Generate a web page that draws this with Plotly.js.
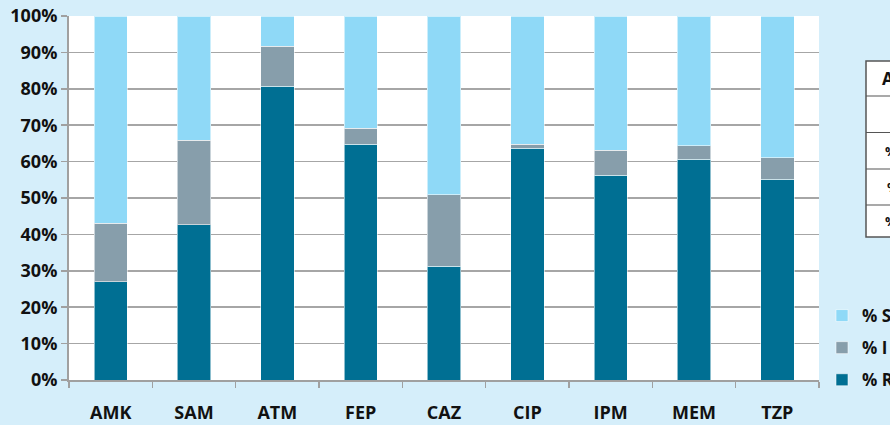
<!DOCTYPE html>
<html>
<head>
<meta charset="utf-8">
<script src="https://cdn.plot.ly/plotly-3.0.1.min.js"></script>
<style>
  html, body { margin: 0; padding: 0; background: #d5eefa; }
  #chart { width: 890px; height: 425px; }
</style>
</head>
<body>
<div id="chart"></div>
<script>
// ---- data ----
var categories = ['AMK', 'SAM', 'ATM', 'FEP', 'CAZ', 'CIP', 'IPM', 'MEM', 'TZP'];
var pctR = [27, 42.6, 80.7, 64.8, 31.3, 63.7, 56.2, 60.6, 55.2];
var pctI = [16.1, 23.2, 11.0, 4.4, 19.6, 1.1, 6.9, 3.7, 5.8];
var pctS = [56.9, 34.2, 8.3, 30.8, 49.1, 35.2, 36.9, 35.7, 39.0];
var seriesNames = ['% R', '% I', '% S'];
var yTickVals = [0, 10, 20, 30, 40, 50, 60, 70, 80, 90, 100];
var yTickText = ['0%', '10%', '20%', '30%', '40%', '50%', '60%', '70%', '80%', '90%', '100%'];
var tableRows = ['Antibiotic', 'N', '% R', '% I', '% S'];

// ---- layout helpers (pixel -> paper) ----
var W = 890, H = 425;
var M = {l: 69, r: 71, t: 16, b: 45};
var PW = W - M.l - M.r, PH = H - M.t - M.b;
function px(x) { return (x - M.l) / PW; }
function py(y) { return 1 - (y - M.t) / PH; }

var colors = ['#006f93', '#879eab', '#8fd9f7'];
var vals = [pctR, pctI, pctS];
var ranks = [3, 2, 1];
var traces = vals.map(function (v, i) {
  return {
    type: 'bar',
    x: categories,
    y: v,
    name: seriesNames[i],
    legendgroup: 'g' + i,
    legendrank: ranks[i],
    marker: {color: colors[i], line: {color: 'rgba(255,255,255,0.55)', width: 1}},
    hoverinfo: 'x+y+name'
  };
});

var font = {family: '"Open Sans", "DejaVu Sans", sans-serif', size: 18, color: '#111', weight: 'bold'};

// table (partially visible on the right edge)
var tblTop = 61, tblBot = 237, tblLeft = 866, tblRight = 960;
var rowLines = [96, 132.5, 169, 205];
var shapes = [{
  type: 'rect', xref: 'paper', yref: 'paper',
  x0: px(tblLeft), x1: px(tblRight), y0: py(tblBot), y1: py(tblTop),
  fillcolor: '#ffffff', line: {color: '#555555', width: 1.5}, layer: 'above'
}];
rowLines.forEach(function (y) {
  shapes.push({type: 'line', xref: 'paper', yref: 'paper',
    x0: px(tblLeft), x1: px(tblRight), y0: py(y), y1: py(y),
    line: {color: '#555555', width: 1.2}, layer: 'above'});
});
var rowEdges = [tblTop].concat(rowLines).concat([tblBot]);
var textX = [880, 888, 883, 885, 883];
var annotations = tableRows.map(function (t, i) {
  return {
    xref: 'paper', yref: 'paper', x: px(textX[i]), y: py((rowEdges[i] + rowEdges[i + 1]) / 2),
    xanchor: 'left', yanchor: 'middle', text: t, showarrow: false,
    font: {family: '"Open Sans", sans-serif', size: i === 0 ? 17 : 13, color: i === 1 ? '#666' : '#111'}
  };
});

var layout = {
  width: W, height: H,
  margin: {l: M.l, r: M.r, t: M.t, b: M.b, pad: 0, autoexpand: false},
  paper_bgcolor: '#d5eefa',
  plot_bgcolor: '#ffffff',
  barmode: 'stack',
  bargap: 0.6,
  font: font,
  showlegend: true,
  legend: {
    x: px(822), xanchor: 'left', y: py(298), yanchor: 'top',
    traceorder: 'grouped', tracegroupgap: 7,
    bgcolor: 'rgba(0,0,0,0)', borderwidth: 0,
    font: {family: font.family, size: 17, color: '#111', weight: 'bold'}
  },
  xaxis: {
    type: 'category',
    tickson: 'boundaries',
    ticks: 'outside', ticklen: 6, tickwidth: 1.5, tickcolor: '#a0a0a0',
    showline: true, linecolor: '#a0a0a0', linewidth: 2,
    showgrid: false,
    ticklabelstandoff: 15,
    tickfont: font,
    fixedrange: true
  },
  yaxis: {
    range: [0, 100],
    tickvals: yTickVals, ticktext: yTickText,
    ticks: 'outside', ticklen: 6, tickwidth: 1.5, tickcolor: '#a0a0a0',
    showline: true, linecolor: '#a0a0a0', linewidth: 2,
    showgrid: true, gridcolor: '#a6a6a6', gridwidth: 1.5,
    zeroline: false,
    tickfont: font,
    fixedrange: true
  },
  shapes: shapes,
  annotations: annotations
};

Plotly.newPlot('chart', traces, layout, {displayModeBar: false, staticPlot: true});
</script>
</body>
</html>
